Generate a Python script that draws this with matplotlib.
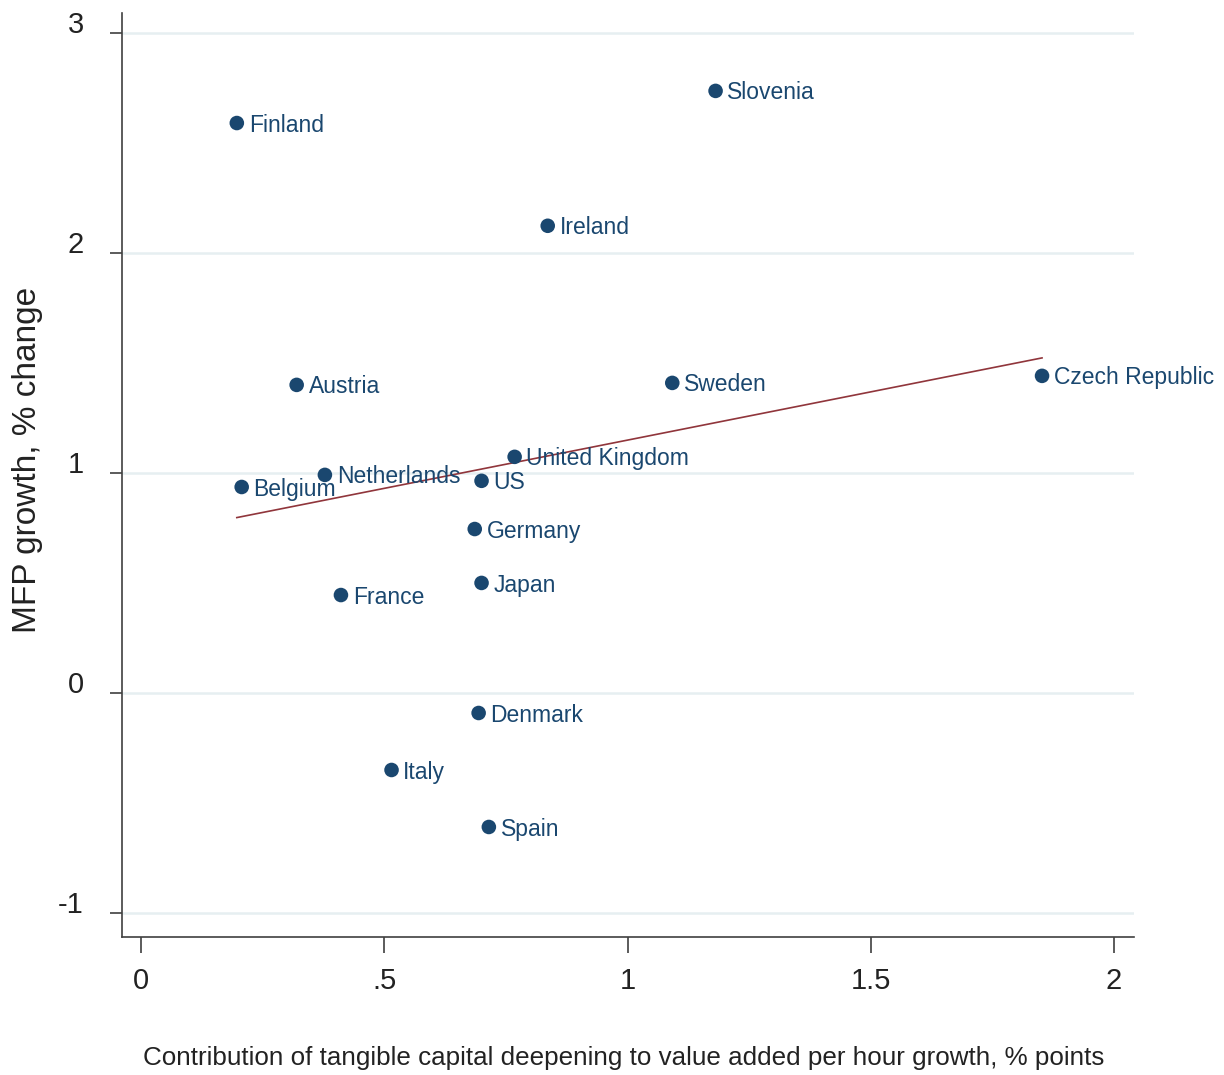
import numpy as np
import matplotlib
matplotlib.use("Agg")
import matplotlib.pyplot as plt
from matplotlib import font_manager

# MFP growth vs. contribution of tangible capital deepening, by country
countries = ["Finland", "Slovenia", "Ireland", "Austria", "Sweden", "Czech Republic",
             "United Kingdom", "Netherlands", "Belgium", "US", "Germany", "Japan",
             "France", "Denmark", "Italy", "Spain"]
capital_contrib = [0.197, 1.181, 0.836, 0.320, 1.092, 1.852,
                   0.768, 0.378, 0.207, 0.700, 0.686, 0.700,
                   0.411, 0.694, 0.515, 0.715]
mfp_growth = [2.59, 2.736, 2.123, 1.40, 1.409, 1.441,
              1.073, 0.991, 0.936, 0.964, 0.745, 0.50,
              0.445, -0.091, -0.35, -0.609]

x_ticks = [0, 0.5, 1, 1.5, 2]
x_tick_labels = ["0", ".5", "1", "1.5", "2"]
y_ticks = [-1, 0, 1, 2, 3]
y_tick_labels = ["-1", "0", "1", "2", "3"]

MARKER_COLOR = "#1a476f"
FIT_COLOR = "#90353b"
GRID_COLOR = "#e6eff1"

installed = {f.name for f in font_manager.fontManager.ttflist}
narrow = "Liberation Sans Narrow" if "Liberation Sans Narrow" in installed else "Liberation Sans"
plt.rcParams["font.family"] = [narrow, "DejaVu Sans"]

fig = plt.figure(figsize=(12.24, 10.75), dpi=100)
ax = fig.add_axes([122 / 1224, 1 - 937 / 1075, (1134 - 122) / 1224, (937 - 13) / 1075])

x = np.array(capital_contrib)
y = np.array(mfp_growth)

# linear fit over the data range
slope, intercept = np.polyfit(x, y, 1)
fit_x = np.array([x.min(), x.max()])
ax.plot(fit_x, intercept + slope * fit_x, color=FIT_COLOR, lw=1.2, zorder=2)

ax.scatter(x, y, s=110, color=MARKER_COLOR, edgecolors="none", zorder=3)
for name, xi, yi in zip(countries, x, y):
    ax.annotate(name, (xi, yi), xytext=(8.5, -1.5), textcoords="offset points",
                ha="left", va="center", fontsize=16.5, color=MARKER_COLOR, zorder=4)

ax.set_xlim(-0.039, 2.041)
ax.set_ylim(-1.109, 3.09)

for yt in y_ticks:
    ax.axhline(yt, color=GRID_COLOR, lw=1.8, zorder=1)

ax.set_xticks(x_ticks)
ax.set_xticklabels(x_tick_labels)
ax.set_yticks(y_ticks)
ax.set_yticklabels(y_tick_labels)
for lbl in ax.get_yticklabels():
    lbl.set_va("baseline")

ax.tick_params(axis="x", length=11.5, width=1.2, pad=10, labelsize=21,
               color="#404040", labelcolor="#222222")
ax.tick_params(axis="y", length=8.6, width=1.2, pad=19, labelsize=21,
               color="#404040", labelcolor="#222222")

for side in ["top", "right"]:
    ax.spines[side].set_visible(False)
for side in ["left", "bottom"]:
    ax.spines[side].set_color("#404040")
    ax.spines[side].set_linewidth(1.2)

fig.text(28 / 1224, 1 - 460 / 1075, "MFP growth, % change", rotation=90,
         ha="center", va="center", fontsize=24, color="#222222",
         family=["Liberation Sans", "DejaVu Sans"])
fig.text(624 / 1224, 1 - 1058 / 1075,
         "Contribution of tangible capital deepening to value added per hour growth, % points",
         ha="center", va="center", fontsize=18.7, color="#222222")

fig.savefig("out.png", dpi=100)
